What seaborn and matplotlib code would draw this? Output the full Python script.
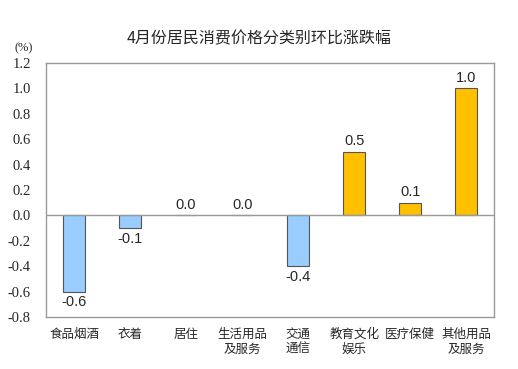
import matplotlib
matplotlib.use("Agg")
import matplotlib.pyplot as plt
import seaborn as sns
import pandas as pd

# 数据
categories = ["食品烟酒", "衣着", "居住", "生活用品\n及服务", "交通\n通信", "教育文化\n娱乐", "医疗保健", "其他用品\n及服务"]
values = [-0.6, -0.1, 0.0, 0.0, -0.4, 0.5, 0.1, 1.0]
y_ticks = [-0.8, -0.6, -0.4, -0.2, 0.0, 0.2, 0.4, 0.6, 0.8, 1.0, 1.2]
title = "4月份居民消费价格分类别环比涨跌幅"

sns.set_style("white")
plt.rcParams['font.family'] = ['Noto Sans CJK SC', 'DejaVu Sans']

df = pd.DataFrame({"cat": categories, "val": values})
colors = ["#99CCFF" if v < 0 else "#FFC000" for v in values]

fig = plt.figure(figsize=(5.18, 3.69), dpi=100)
ax = fig.add_axes([0.089, 0.141, 0.865, 0.688])

sns.barplot(data=df, x="cat", y="val", hue="cat", palette=colors, legend=False,
            width=0.4, edgecolor="#555555", linewidth=0.8, saturation=1, ax=ax)

ax.set_ylim(-0.8, 1.2)
ax.set_yticks(y_ticks)
ax.set_yticklabels([f"{t:.1f}" for t in y_ticks], family="Liberation Serif", fontsize=10.5)
ax.tick_params(axis="y", length=0, pad=11)
ax.tick_params(axis="x", length=0, pad=8, labelsize=9)
for lab in ax.get_xticklabels():
    lab.set_linespacing(1.15)
ax.set_xlabel("")
ax.set_ylabel("")
ax.axhline(0, color="#999999", linewidth=1)
for s in ax.spines.values():
    s.set_color("#999999")
    s.set_linewidth(1)

for i, v in enumerate(values):
    if v < 0:
        ax.text(i, v - 0.03, f"{v:.1f}", ha="center", va="top", fontsize=10.5, family="Liberation Sans")
    else:
        ax.text(i, v + 0.03, f"{v:.1f}", ha="center", va="bottom", fontsize=10.5, family="Liberation Sans")

fig.text(0.5, 0.895, title, ha="center", va="center", fontsize=11.5)
fig.text(0.045, 0.87, "(%)", ha="center", va="center", fontsize=9, family="Liberation Serif")

fig.savefig("out.png", dpi=100)
